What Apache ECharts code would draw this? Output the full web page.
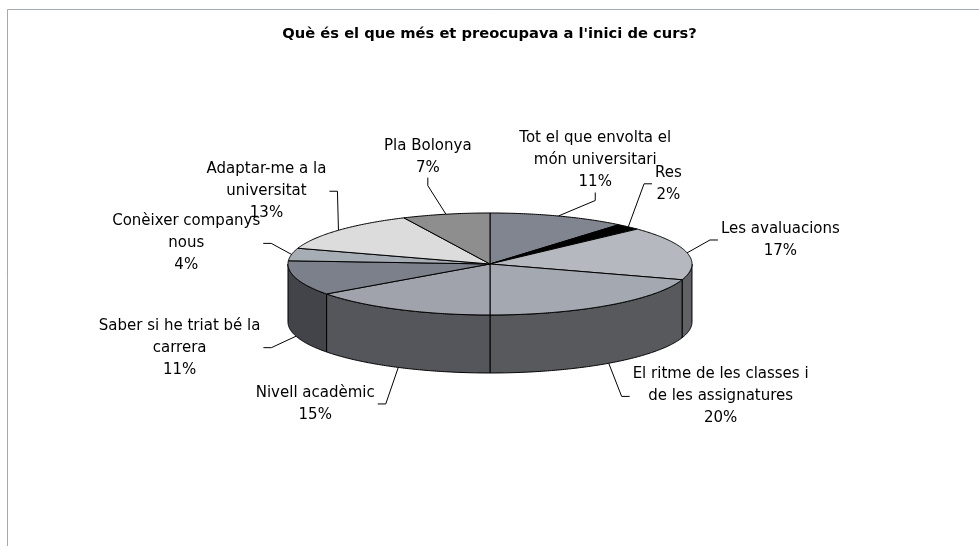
<!DOCTYPE html>
<html>
<head>
<meta charset="utf-8">
<script src="https://cdn.jsdelivr.net/npm/echarts@6/dist/echarts.min.js"></script>
<style>
  html, body { margin: 0; padding: 0; background: #fff; }
  #chart { width: 979px; height: 546px; }
</style>
</head>
<body>
<div id="chart"></div>
<script>
// slices, clockwise from 12 o'clock
const categories = [
  'Tot el que envolta el\nmón universitari',
  'Res',
  'Les avaluacions',
  'El ritme de les classes i\nde les assignatures',
  'Nivell acadèmic',
  'Saber si he triat bé la\ncarrera',
  'Conèixer companys\nnous',
  'Adaptar-me a la\nuniversitat',
  'Pla Bolonya'
]
const values = [11, 2, 17, 20, 15, 11, 4, 13, 7]
const topColors = ['#80858f', '#000000', '#b5b8bf', '#a4a8b0', '#a0a3ab', '#7c808b', '#a7adb5', '#dcdcdc', '#8e8e8e']

const total = values.reduce((a, b) => a + b, 0)
const cum = []
values.reduce((acc, v, i) => { cum[i] = acc; return acc + v }, 0)

const FONT_SIZE = 15
const FONT_FAMILY = 'DejaVu Sans'
const LINE_H = 22
const measureCtx = document.createElement('canvas').getContext('2d')
measureCtx.font = FONT_SIZE + 'px "' + FONT_FAMILY + '"'
function textWidth (txt) {
  return Math.max.apply(null, txt.split('\n').map(l => measureCtx.measureText(l).width))
}
// darker shade for the side walls
function darken (hex, f) {
  const n = parseInt(hex.slice(1), 16)
  const r = Math.round(((n >> 16) & 255) * f)
  const g = Math.round(((n >> 8) & 255) * f)
  const b = Math.round((n & 255) * f)
  return 'rgb(' + r + ',' + g + ',' + b + ')'
}

const chart = echarts.init(document.getElementById('chart'))

function renderItem (params, api) {
  const i = params.dataIndex
  const W = api.getWidth()
  const H = api.getHeight()
  const cx = W * 0.5005
  const cy = H * 0.4835
  const rx = 202
  const ry = 51
  const depth = 58
  const s = cum[i] / total * Math.PI * 2
  const e = (cum[i] + api.value(0)) / total * Math.PI * 2
  const ell = (a, dy) => [cx + rx * Math.sin(a), cy - ry * Math.cos(a) + dy]
  const arc = (a0, a1, dy) => {
    const pts = []
    const n = Math.max(2, Math.ceil((a1 - a0) / 0.01))
    for (let k = 0; k <= n; k++) pts.push(ell(a0 + (a1 - a0) * k / n, dy))
    return pts
  }
  const children = []
  const top = topColors[i]
  // side wall (front half only)
  const a0 = Math.max(s, Math.PI / 2)
  const a1 = Math.min(e, Math.PI * 1.5)
  if (a1 > a0) {
    const pts = arc(a0, a1, 0).concat(arc(a0, a1, depth).reverse())
    children.push({
      type: 'polygon',
      shape: { points: pts },
      style: { fill: darken(top, 0.53), stroke: '#000', lineWidth: 1 },
      z2: 1
    })
  }
  // top face
  children.push({
    type: 'polygon',
    shape: { points: [[cx, cy]].concat(arc(s, e, 0)) },
    style: { fill: top, stroke: '#000', lineWidth: 1 },
    z2: 2
  })
  // label, pushed outwards by part of its box
  const m = (s + e) / 2
  const sn = Math.sin(m)
  const cs = Math.cos(m)
  const front = cs < 0
  const txt = categories[i] + '\n' + Math.round(api.value(0) / total * 100) + '%'
  const nLines = txt.split('\n').length
  const w = textWidth(txt)
  const h = nLines * LINE_H
  const lrx = 250 + (front ? 110 * cs * cs : 0)
  const lx = cx + lrx * sn + 0.8 * sn * w / 2
  const ly = front ? cy - 92 * cs + depth : cy - 110 * cs
  children.push({
    type: 'text',
    style: {
      text: txt, x: lx, y: ly, align: 'center', verticalAlign: 'middle',
      fontSize: FONT_SIZE, fontFamily: FONT_FAMILY, fill: '#000', lineHeight: LINE_H
    },
    z2: 3
  })
  // leader line
  const anchor = front ? ell(m, depth) : ell(m, 0)
  let pts
  if (Math.abs(sn) > 0.45) {
    const dir = Math.sign(sn)
    const ex = lx - dir * (w / 2 + 3)
    pts = [anchor, [ex - dir * 8, ly], [ex, ly]]
  } else {
    const ey = ly + h / 2 - 1
    pts = [anchor, [lx, ey + 8], [lx, ey]]
  }
  children.push({
    type: 'polyline',
    shape: { points: pts },
    style: { stroke: '#000', lineWidth: 1, fill: null },
    z2: 3
  })
  return { type: 'group', children: children }
}

const option = {
  animation: false,
  backgroundColor: '#fff',
  title: {
    text: 'Què és el que més et preocupava a l\'inici de curs?',
    left: 'center',
    top: 22,
    textStyle: { fontFamily: 'DejaVu Sans', fontSize: 14.7, fontWeight: 'bold', color: '#000' }
  },
  graphic: [{
    type: 'rect',
    shape: { x: 7.5, y: 9.5, width: 1000, height: 600 },
    style: { fill: null, stroke: '#a4a8b0', lineWidth: 1 },
    silent: true
  }],
  series: [{
    type: 'custom',
    coordinateSystem: 'none',
    silent: true,
    renderItem: renderItem,
    data: values.map(v => [v])
  }]
}

chart.setOption(option)
window.addEventListener('resize', () => chart.resize())
</script>
</body>
</html>
